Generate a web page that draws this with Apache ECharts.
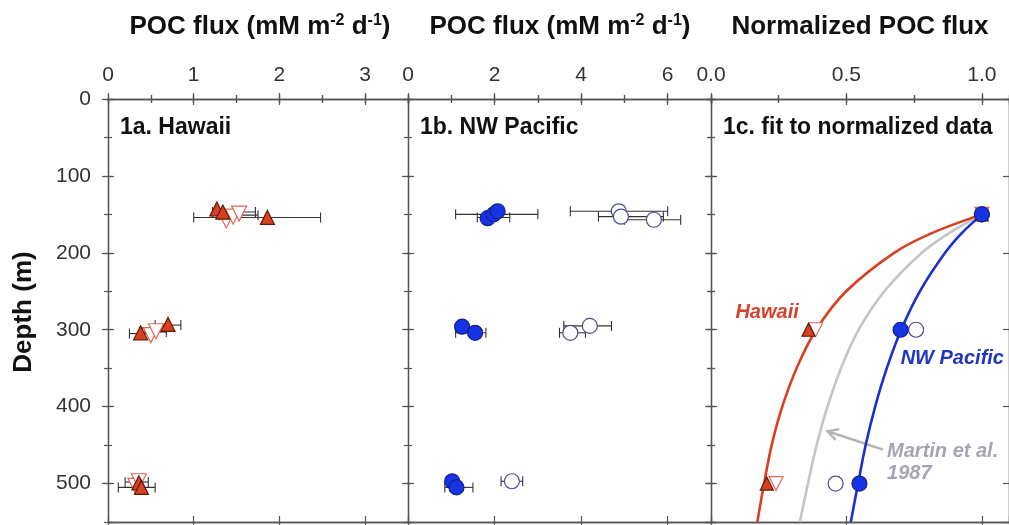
<!DOCTYPE html>
<html><head><meta charset="utf-8">
<script src="https://cdn.jsdelivr.net/npm/echarts@6/dist/echarts.min.js"></script>
<style>html,body{margin:0;padding:0;background:#fff}#c{width:1009px;height:525px}</style>
</head><body><div id="c"></div>
<script>
// ---------- data ----------
// panel 1a Hawaii: [flux, depth]
const hawaiiFilled = [[1.27,143],[1.34,147],[1.86,154],[0.38,304],[0.70,293],[0.36,499],[0.39,505]];
const hawaiiOpen   = [[1.38,158],[1.46,153],[1.53,149],[0.50,307],[0.56,302],[0.32,503],[0.36,497]];
// error bars: [low, high, depth]
const hawaiiErr    = [[1.00,2.48,154],[1.22,1.72,147],[1.30,1.75,151],[0.25,0.52,305],[0.55,0.85,294],[0.40,0.68,303],[0.12,0.55,505],[0.20,0.47,498]];
// panel 1b NW Pacific
const nwpFilled = [[1.84,155],[1.98,150],[2.07,146],[1.25,296],[1.55,304],[1.02,497],[1.12,505]];
const nwpOpen   = [[4.87,146],[4.92,153],[5.68,157],[4.20,295],[3.75,304],[2.40,497]];
const nwpErr    = [[1.10,3.00,150],[1.60,2.35,154],[3.75,6.00,146],[4.40,5.90,153],[5.00,6.30,157],[1.10,1.80,304],[3.60,4.70,295],[3.50,4.10,304],[0.85,1.50,505],[2.15,2.65,497]];
// panel 1c normalized data
const normHawaiiFilled = [[1.0,150],[0.36,300],[0.206,500]];
const normHawaiiOpen   = [[1.0,150],[0.386,300],[0.24,500]];
const normNwpFilled    = [[1.0,150],[0.70,300],[0.548,500]];
const normNwpOpen      = [[1.0,150],[0.757,300],[0.46,500]];
// fitted curves
const fitDepths = [150,175,200,250,300,350,400,450,500,550];
const fitHawaii = [1.0,0.811,0.676,0.499,0.388,0.316,0.263,0.224,0.196,0.171];
const fitMartin = [1.0,0.876,0.778,0.640,0.545,0.480,0.430,0.390,0.358,0.328];
const fitNwp    = [1.0,0.924,0.864,0.771,0.702,0.649,0.606,0.571,0.543,0.516];
const panelTitles = ['1a. Hawaii','1b. NW Pacific','1c. fit to normalized data'];

// ---------- chart ----------
const FONT = '"Liberation Sans", Arial, Helvetica, sans-serif';
const AX = '#555';
const TOP = 99, H = 423;
const grids = [
  {left:108, top:TOP, width:300, height:H},
  {left:408, top:TOP, width:303, height:H},
  {left:711, top:TOP, width:300, height:H}
];
const xCfg = [
  {min:0, max:3.5, major:1, minor:0.5, fmt:v=>String(v)},
  {min:0, max:7, major:2, minor:1, fmt:v=>String(v)},
  {min:0, max:1.1, major:0.5, minor:0.25, fmt:v=>v.toFixed(1)}
];
const xAxes = [], yAxes = [], xIdx = [], yIdx = [];
function tick(inside, len){return {show:true, inside, length:len, lineStyle:{color:AX, width:1.2}};}
xCfg.forEach((c,g)=>{
  xIdx.push(xAxes.length);
  const base = {gridIndex:g, type:'value', min:c.min, max:c.max, splitLine:{show:false},
    axisLine:{show:true, onZero:false, lineStyle:{color:AX, width:1.3}}, axisLabel:{show:false}};
  ['top','bottom'].forEach(pos=>{
    xAxes.push({...base, position:pos, interval:c.major, axisTick:tick(false,6),
      axisLabel: pos==='top' ? {show:true, margin:13, fontSize:21, color:'#333', fontFamily:FONT, formatter:c.fmt, showMaxLabel:false} : {show:false}});
    xAxes.push({...base, position:pos, interval:c.major, axisTick:tick(true,6)});
    xAxes.push({...base, position:pos, interval:c.minor, axisTick:tick(false,4), axisLine:{show:false}});
    xAxes.push({...base, position:pos, interval:c.minor, axisTick:tick(true,4), axisLine:{show:false}});
  });
  yIdx.push(yAxes.length);
  const yb = {gridIndex:g, type:'value', min:0, max:550, inverse:true, splitLine:{show:false},
    axisLine:{show:true, onZero:false, lineStyle:{color:AX, width:1.3}}, axisLabel:{show:false}};
  const sides = g===2 ? ['left','right'] : ['left'];
  sides.forEach(pos=>{
    yAxes.push({...yb, position:pos, interval:100, axisTick:tick(false,6),
      axisLabel: (g===0 && pos==='left') ? {show:true, margin:17, fontSize:21, color:'#333', fontFamily:FONT, showMaxLabel:false} : {show:false}});
    yAxes.push({...yb, position:pos, interval:100, axisTick:tick(true,6)});
    yAxes.push({...yb, position:pos, interval:50, axisTick:tick(false,4), axisLine:{show:false}});
    yAxes.push({...yb, position:pos, interval:50, axisTick:tick(true,4), axisLine:{show:false}});
  });
});

function errSeries(data, g){
  return {type:'custom', xAxisIndex:xIdx[g], yAxisIndex:yIdx[g], data, encode:{x:[0,1], y:2}, z:2, silent:true,
    renderItem(params, api){
      const a = api.coord([api.value(0), api.value(2)]);
      const b = api.coord([api.value(1), api.value(2)]);
      const h = 5, st = {stroke:'#333', lineWidth:1.1};
      return {type:'group', children:[
        {type:'line', shape:{x1:a[0],y1:a[1],x2:b[0],y2:b[1]}, style:st},
        {type:'line', shape:{x1:a[0],y1:a[1]-h,x2:a[0],y2:a[1]+h}, style:st},
        {type:'line', shape:{x1:b[0],y1:b[1]-h,x2:b[0],y2:b[1]+h}, style:st}]};
    }};
}
function sc(data, g, symbol, size, fill, stroke, rot, z){
  return {type:'scatter', xAxisIndex:xIdx[g], yAxisIndex:yIdx[g], data, symbol, symbolSize:size,
    symbolRotate:rot||0, z, silent:true,
    itemStyle:{color:fill, borderColor:stroke, borderWidth:1.2, opacity:1}};
}
function curve(vals, color, z){
  return {type:'line', xAxisIndex:xIdx[2], yAxisIndex:yIdx[2], data: vals.map((v,i)=>[v, fitDepths[i]]),
    smooth:0.35, showSymbol:false, silent:true, z, lineStyle:{color, width:2.6}};
}
const RED='#d9401f', REDDK='#5a1a0c', REDO='#e06a58', BLUE='#1633e6', BLUEDK='#14208a', BLUEO='#4a5090';

const series = [
  errSeries(hawaiiErr,0),
  sc(hawaiiOpen,0,'triangle',15,'#fff',REDO,180,3),
  sc(hawaiiFilled,0,'triangle',14,RED,REDDK,0,4),
  errSeries(nwpErr,1),
  sc(nwpOpen,1,'circle',15,'#fff',BLUEO,0,3),
  sc(nwpFilled,1,'circle',15,BLUE,BLUEDK,0,4),
  curve(fitMartin,'#c4c4c4',1),
  curve(fitHawaii,RED,1),
  curve(fitNwp,'#1a2fd0',1),
  sc(normHawaiiOpen,2,'triangle',14,'#fff',REDO,180,3),
  sc(normHawaiiFilled,2,'triangle',13,RED,REDDK,0,4),
  sc(normNwpOpen,2,'circle',15,'#fff',BLUEO,0,3),
  sc(normNwpFilled,2,'circle',15,BLUE,BLUEDK,0,4)
];

const chart = echarts.init(document.getElementById('c'), null, {renderer:'canvas'});
chart.setOption({animation:false, backgroundColor:'#fff', grid:grids, xAxis:xAxes, yAxis:yAxes, series});

// ---------- text & annotations ----------
const titleRich = {
  t:{fontSize:26, lineHeight:28, fontWeight:'bold', fontFamily:FONT, fill:'#111'},
  s:{fontSize:16, lineHeight:16, fontWeight:'bold', fontFamily:FONT, fill:'#111', padding:[0,0,12,0], verticalAlign:'top'}
};
const g = [];
function title(x, text){
  g.push({type:'text', x, y:27, style:{text, rich:titleRich, align:'center', verticalAlign:'middle', fill:'#111', fontSize:26, fontWeight:'bold', fontFamily:FONT}});
}
title(260, '{t|POC flux (mM m}{s|-2}{t| d}{s|-1}{t|)}');
title(560, '{t|POC flux (mM m}{s|-2}{t| d}{s|-1}{t|)}');
title(860, '{t|Normalized POC flux}');
panelTitles.forEach((t,i)=>{
  g.push({type:'text', x:grids[i].left+12, y:128, style:{text:t, fill:'#111', fontSize:23, fontWeight:'bold', fontFamily:FONT, align:'left', verticalAlign:'middle'}});
});
g.push({type:'text', x:24, y:312, rotation:Math.PI/2, style:{text:'Depth (m)', fill:'#111', fontSize:26, fontWeight:'bold', fontFamily:FONT, align:'center', verticalAlign:'middle'}});

const P = p => chart.convertToPixel({xAxisIndex:xIdx[2], yAxisIndex:yIdx[2]}, p);
function note(p, text, color){
  const q = P(p);
  g.push({type:'text', x:q[0], y:q[1], style:{text, fill:color, fontSize:20, fontWeight:'bold', fontStyle:'italic', fontFamily:FONT, align:'left', verticalAlign:'middle'}});
}
note([0.09,277], 'Hawaii', '#d8402c');
note([0.70,338], 'NW Pacific', '#2035c0');
note([0.65,458], 'Martin et al.', '#a4a4b4');
note([0.65,487], '1987', '#a4a4b4');
const a0 = P([0.635,456]), a1 = P([0.43,432]);
const ang = Math.atan2(a0[1]-a1[1], a0[0]-a1[0]);
const hl = 12, hw = 0.5;
g.push({type:'line', shape:{x1:a0[0],y1:a0[1],x2:a1[0],y2:a1[1]}, style:{stroke:'#b4b4b4', lineWidth:2.4}});
g.push({type:'polyline', shape:{points:[
  [a1[0]+hl*Math.cos(ang+hw), a1[1]+hl*Math.sin(ang+hw)], a1,
  [a1[0]+hl*Math.cos(ang-hw), a1[1]+hl*Math.sin(ang-hw)]]}, style:{stroke:'#b4b4b4', lineWidth:2.4, fill:null}});
chart.setOption({graphic:g});
</script></body></html>
